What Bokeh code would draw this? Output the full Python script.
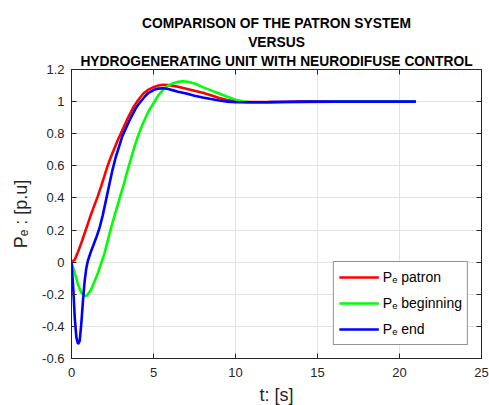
from bokeh.plotting import figure
from bokeh.models import (Title, LinearAxis, FixedTicker, CustomJSTickFormatter,
                          Legend, LegendItem, Range1d)
from bokeh.embed import file_html
from bokeh.resources import INLINE

# ---- data ----
t_patron = [0, 0.2, 0.4, 0.6, 0.8, 1.0, 1.2, 1.4, 1.6, 1.8, 2.0, 2.2, 2.4, 2.6, 2.8,
            3.0, 3.2, 3.4, 3.6, 3.8, 4.0, 4.2, 4.4, 4.7, 5.0, 5.3, 5.6, 5.9, 6.2, 6.5,
            7.0, 7.5, 8.0, 8.5, 9.0, 9.5, 10, 10.5, 11, 12, 13, 14, 16, 18, 21]
pe_patron = [0, 0.015, 0.065, 0.12, 0.18, 0.24, 0.30, 0.355, 0.41, 0.47, 0.535, 0.60,
             0.655, 0.705, 0.755, 0.80, 0.845, 0.89, 0.93, 0.97, 1.0, 1.027, 1.052, 1.075,
             1.09, 1.10, 1.105, 1.103, 1.098, 1.092, 1.08, 1.067, 1.055, 1.04, 1.022, 1.01,
             1.002, 0.998, 0.997, 0.997, 0.998, 1.0, 1.0, 1.0, 1.0]

t_begin = [0, 0.2, 0.4, 0.6, 0.8, 0.9, 1.0, 1.2, 1.4, 1.6, 1.8, 2.0, 2.2, 2.4, 2.6, 2.8,
           3.0, 3.2, 3.4, 3.6, 3.8, 4.0, 4.2, 4.4, 4.7, 5.0, 5.3, 5.6, 5.9, 6.2, 6.5, 6.8,
           7.1, 7.5, 8.0, 8.5, 9.0, 9.5, 10, 10.5, 11, 12, 13, 14, 15, 16, 18, 21]
pe_begin = [0, -0.07, -0.14, -0.19, -0.21, -0.21, -0.20, -0.17, -0.12, -0.07, -0.01,
            0.05, 0.13, 0.21, 0.28, 0.35, 0.42, 0.49, 0.565, 0.635, 0.705, 0.77, 0.825,
            0.875, 0.94, 0.99, 1.04, 1.075, 1.1, 1.115, 1.123, 1.127, 1.124, 1.113,
            1.09, 1.07, 1.05, 1.03, 1.012, 1.0, 0.995, 0.993, 0.994, 0.996, 0.998, 1.0,
            1.0, 1.0]

t_end = [0, 0.1, 0.2, 0.3, 0.4, 0.5, 0.6, 0.7, 0.8, 0.9, 1.0, 1.1, 1.2, 1.35, 1.5, 1.7,
         1.9, 2.1, 2.3, 2.5, 2.7, 2.9, 3.1, 3.3, 3.5, 3.7, 3.9, 4.1, 4.3, 4.5, 4.7, 5.0,
         5.3, 5.6, 5.9, 6.2, 6.5, 7.0, 7.5, 8.0, 8.5, 9.0, 9.5, 10, 11, 12, 13, 14, 16,
         18, 21]
pe_end = [0, -0.15, -0.35, -0.47, -0.51, -0.49, -0.38, -0.24, -0.12, -0.04, 0.01, 0.04,
          0.07, 0.11, 0.15, 0.21, 0.29, 0.385, 0.48, 0.575, 0.655, 0.72, 0.785, 0.83,
          0.875, 0.915, 0.955, 0.985, 1.01, 1.035, 1.055, 1.072, 1.081, 1.083, 1.078,
          1.07, 1.062, 1.05, 1.037, 1.026, 1.016, 1.007, 1.0, 0.997, 0.996, 0.997, 0.999,
          1.0, 1.0, 1.0, 1.0]

x_ticks = [0, 5, 10, 15, 20, 25]
y_ticks = [-0.6, -0.4, -0.2, 0, 0.2, 0.4, 0.6, 0.8, 1, 1.2]

title_lines = ["COMPARISON OF THE PATRON SYSTEM", "VERSUS",
               "HYDROGENERATING UNIT WITH NEURODIFUSE CONTROL"]
legend_labels = ["P\u2091 patron", "P\u2091 beginning", "P\u2091 end"]
colors = ["#ff0000", "#00ff00", "#0000ff"]

FONT = "Liberation Sans"
AX = "#262626"

p = figure(x_range=Range1d(0, 25), y_range=Range1d(-0.6, 1.2),
           frame_width=410, frame_height=289,
           min_border_left=71, min_border_right=8, min_border_top=69, min_border_bottom=46,
           output_backend="svg", toolbar_location=None, title_location=None,
           background_fill_color="white", border_fill_color="white")

p.outline_line_color = AX
p.outline_line_width = 1

fmt = CustomJSTickFormatter(code="return String(Math.round(tick*10)/10);")
xt = FixedTicker(ticks=x_ticks)
yt = FixedTicker(ticks=y_ticks)

for ax, tk in ((p.xaxis[0], xt), (p.yaxis[0], yt)):
    ax.ticker = tk
    ax.formatter = fmt
    ax.major_tick_in = 5
    ax.major_tick_out = 0
    ax.minor_tick_line_color = None
    ax.axis_line_color = AX
    ax.major_tick_line_color = AX
    ax.major_label_text_color = AX
    ax.major_label_text_font = FONT
    ax.major_label_text_font_size = "13px"
    ax.axis_label_text_font = FONT
    ax.axis_label_text_font_size = "18px"
    ax.axis_label_text_font_style = "normal"
    ax.axis_label_text_color = AX

p.xaxis[0].axis_label = "t: [s]"
p.xaxis[0].major_label_standoff = 9
p.xaxis[0].axis_label_standoff = 5
p.yaxis[0].axis_label = "P\u2091 : [p.u]"
p.yaxis[0].major_label_standoff = 7
p.yaxis[0].axis_label_standoff = 8

# top / right tick marks (box), no labels drawn
top = LinearAxis(ticker=xt, major_tick_in=5, major_tick_out=0, minor_tick_line_color=None,
                 major_label_text_color=None, major_label_text_font_size="1px",
                 major_label_standoff=0, axis_line_color=AX, major_tick_line_color=AX)
right = LinearAxis(ticker=yt, major_tick_in=5, major_tick_out=0, minor_tick_line_color=None,
                   major_label_text_color=None, major_label_text_font_size="1px",
                   major_label_standoff=0, axis_line_color=AX, major_tick_line_color=AX)
p.add_layout(top, "above")
p.add_layout(right, "right")

p.xgrid.ticker = xt
p.ygrid.ticker = yt
p.grid.grid_line_color = "#e3e3e3"
p.grid.grid_line_width = 1

# titles (last added is outermost)
for txt in reversed(title_lines):
    p.add_layout(Title(text=txt, align="center", text_font=FONT, text_font_size="13.8px",
                       text_font_style="bold", text_color="#000000", standoff=2), "above")

r1 = p.line(t_patron, pe_patron, line_color=colors[0], line_width=2.6)
r2 = p.line(t_begin, pe_begin, line_color=colors[1], line_width=2.6)
r3 = p.line(t_end, pe_end, line_color=colors[2], line_width=2.6)

legend = Legend(items=[LegendItem(label=legend_labels[0], renderers=[r1]),
                       LegendItem(label=legend_labels[1], renderers=[r2]),
                       LegendItem(label=legend_labels[2], renderers=[r3])],
                location="bottom_right", margin=13, padding=5, spacing=6,
                glyph_width=40, glyph_height=20, label_height=20, label_standoff=4,
                label_text_font=FONT, label_text_font_size="14px", label_text_color="#000000",
                border_line_color=AX, border_line_width=1, background_fill_alpha=1)
p.add_layout(legend)

open("out.html", "w").write(file_html(p, INLINE))
